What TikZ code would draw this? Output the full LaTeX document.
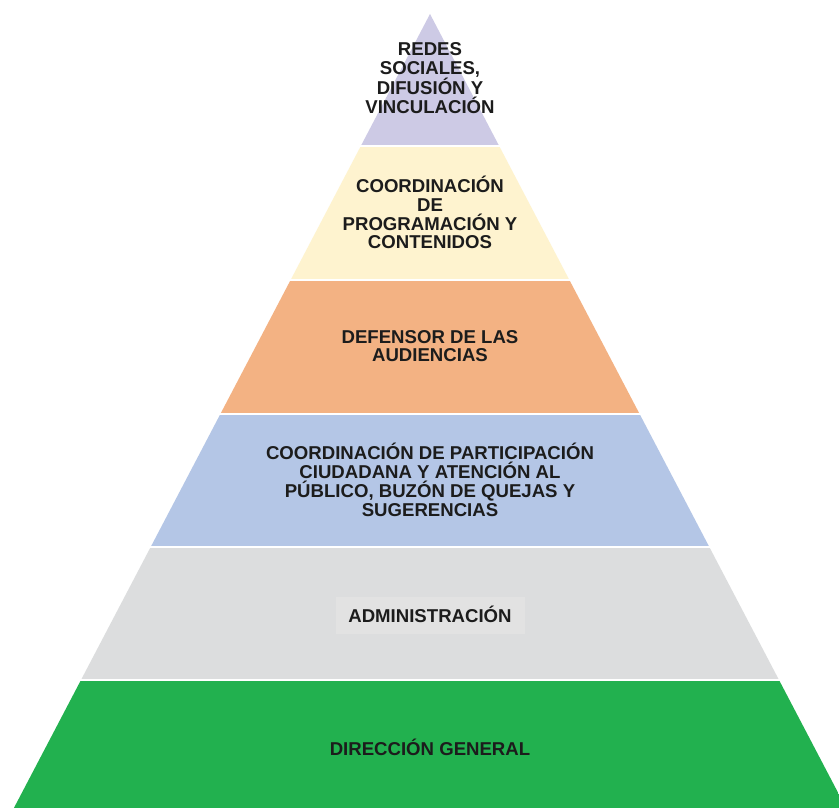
\documentclass[tikz,border=0pt]{standalone}
\usepackage{fontspec}
\setmainfont{Liberation Sans}
\definecolor{lavender}{HTML}{CDCAE5}
\definecolor{cream}{HTML}{FEF3CF}
\definecolor{peach}{HTML}{F3B283}
\definecolor{skyblue}{HTML}{B4C6E6}
\definecolor{lightgray}{HTML}{DCDDDE}
\definecolor{boxgray}{HTML}{E2E2E2}
\definecolor{grass}{HTML}{22B14F}
\definecolor{ink}{HTML}{1C1C1C}
\tikzset{
  label/.style={font=\bfseries\fontsize{18.6}{18.8}\selectfont, text=ink, align=center, inner sep=0pt},
}
\begin{document}
\begin{tikzpicture}[x=1pt,y=-1pt]
\useasboundingbox (0,0) rectangle (839,808);
\fill[white] (0,0) rectangle (839,808);
\begin{scope}
  \clip (0,0) rectangle (839,808);
  \clip (430,14) -- (13.9,808) -- (846.1,808) -- cycle;
  \fill[lavender]  (0,0)   rectangle (900,145);
  \fill[cream]     (0,147) rectangle (900,279);
  \fill[peach]     (0,281) rectangle (900,413);
  \fill[skyblue]   (0,415) rectangle (900,546);
  \fill[lightgray] (0,548) rectangle (900,679);
  \fill[grass]     (0,681) rectangle (900,820);
\end{scope}
\fill[boxgray] (336,597) rectangle (525,634);
\node[label] (redes) at (430,78) {REDES\\SOCIALES,\\DIFUSIÓN Y\\VINCULACIÓN};
\node[label] (prog) at (430,212.5) {COORDINACIÓN\\DE\\PROGRAMACIÓN Y\\CONTENIDOS};
\node[label] (def) at (430,346) {DEFENSOR DE LAS\\AUDIENCIAS};
\node[label] (part) at (430,480) {COORDINACIÓN DE PARTICIPACIÓN\\CIUDADANA Y ATENCIÓN AL\\PÚBLICO, BUZÓN DE QUEJAS Y\\SUGERENCIAS};
\node[label] (adm) at (430,614) {ADMINISTRACIÓN};
\node[label] (dir) at (430,747) {DIRECCIÓN GENERAL};
\end{tikzpicture}
\end{document}
